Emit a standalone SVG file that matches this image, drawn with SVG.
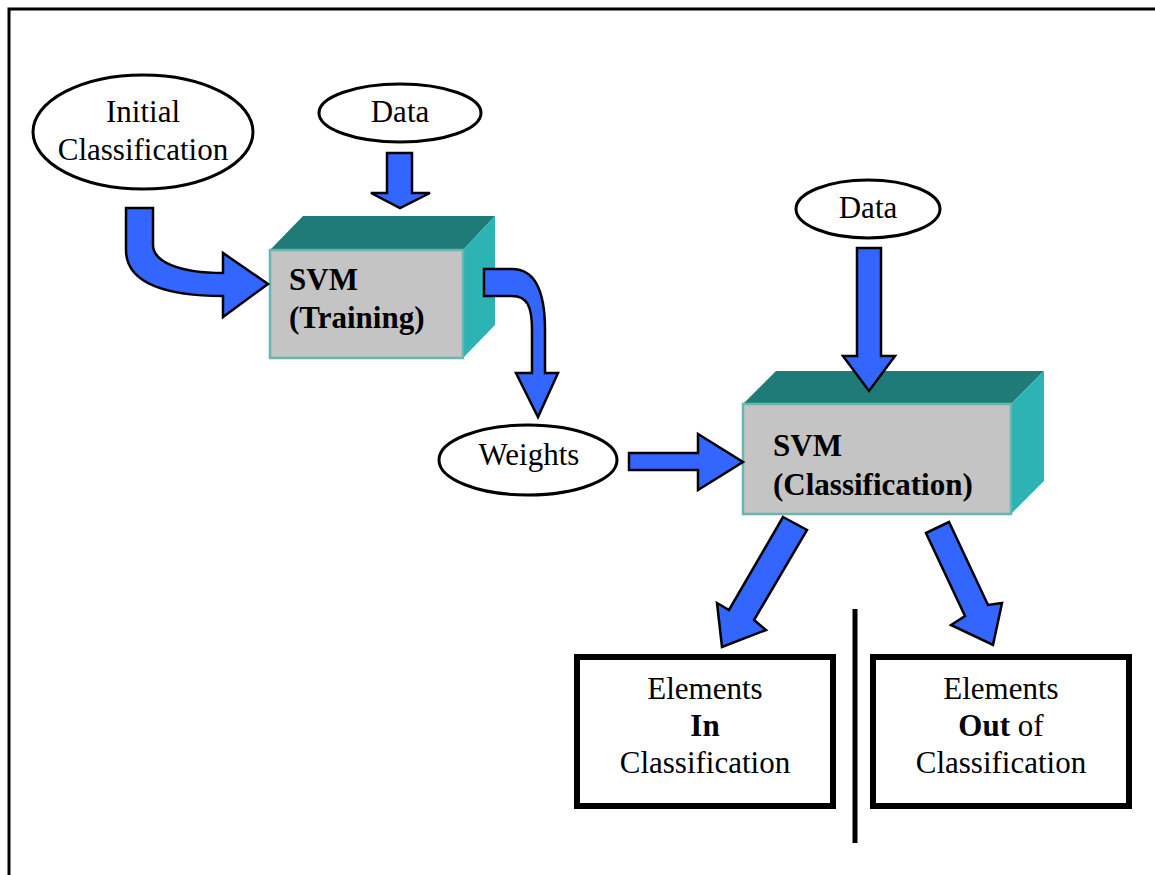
<svg xmlns="http://www.w3.org/2000/svg" width="1155" height="875" viewBox="0 0 1155 875">
<style>
.t{font-family:"Liberation Serif","Times New Roman",serif;font-size:31px;fill:#000;text-anchor:middle}
.b{font-weight:bold}
.tl{text-anchor:start}
.ell{fill:#fff;stroke:#000;stroke-width:3}
.top{fill:#1f7b78}
.side{fill:#2db3b3}
.front{fill:#c4c4c4;stroke:#6ab5b2;stroke-width:2.5}
.box{fill:#fff;stroke:#000;stroke-width:6}
.arr{fill:#3366ff;stroke:#000;stroke-width:2.5;stroke-linejoin:miter}
</style>
<rect width="1155" height="875" fill="#fff"/>
<g id="frame">
<path d="M9,875 L9,9 L1155,9" fill="none" stroke="#000" stroke-width="3"/>
<line x1="855" y1="609" x2="855" y2="843" stroke="#000" stroke-width="5"/>
</g>
<g id="initial">
<ellipse class="ell" cx="143" cy="132" rx="110" ry="57"/>
<text class="t" x="143" y="122">Initial</text>
<text class="t" x="143" y="160">Classification</text>
</g>
<g id="data1">
<ellipse class="ell" cx="400" cy="113" rx="81" ry="29"/>
<text class="t" x="400" y="122">Data</text>
</g>
<g id="svm-training">
<polygon class="top" points="270,250 303,216 495,216 463,250"/>
<polygon class="side" points="463,250 495,216 495,325 463,358"/>
<rect class="front" x="270" y="250" width="193" height="108"/>
<text class="t b tl" x="289" y="290">SVM</text>
<text class="t b tl" x="289" y="328">(Training)</text>
</g>
<g id="weights">
<ellipse class="ell" cx="528" cy="460" rx="89" ry="35"/>
<text class="t" x="529" y="465">Weights</text>
</g>
<g id="data2">
<ellipse class="ell" cx="868" cy="209" rx="72" ry="29"/>
<text class="t" x="868" y="218">Data</text>
</g>
<g id="svm-classification">
<polygon class="top" points="743,404 776,371 1044,371 1011,404"/>
<polygon class="side" points="1011,404 1044,371 1044,481 1011,514"/>
<rect class="front" x="743" y="404" width="268" height="110"/>
<text class="t b tl" x="773" y="456">SVM</text>
<text class="t b tl" x="773" y="495">(Classification)</text>
</g>
<g id="elements-in">
<rect class="box" x="577" y="657" width="256" height="149"/>
<text class="t" x="705" y="699">Elements</text>
<text class="t b" x="705" y="736">In</text>
<text class="t" x="705" y="773">Classification</text>
</g>
<g id="elements-out">
<rect class="box" x="873" y="657" width="256" height="149"/>
<text class="t" x="1001" y="699">Elements</text>
<text class="t" x="1001" y="736"><tspan class="b">Out</tspan> of</text>
<text class="t" x="1001" y="773">Classification</text>
</g>
<g id="connectors">
<path class="arr" d="M126,208 L153,208 L153,245 C153,262 180,273 223,273 L223,253 L268,284 L223,317 L223,296 C170,296 126,285 126,250 Z"/>
<polygon class="arr" points="387,153 412,153 412,193 430,193 400,208 371,193 387,193"/>
<path class="arr" d="M484,269 L512,269 C535,269 545,290 545,330 L545,373 L558,373 L538,417 L516,373 L532,373 L532,330 C532,306 527,296 512,296 L484,296 Z"/>
<polygon class="arr" points="629,453 698,453 698,434 743,462 698,490 698,470 629,470"/>
<polygon class="arr" points="857,248 881,248 881,356 895,356 869,391 843,356 857,356"/>
<polygon class="arr" points="783,517 807,530 754,620 766,630 722,647 717,603 729,610"/>
<polygon class="arr" points="926,533 949,522 988,605 1002,603 993,645 951,625 965,616"/>
</g>
</svg>
